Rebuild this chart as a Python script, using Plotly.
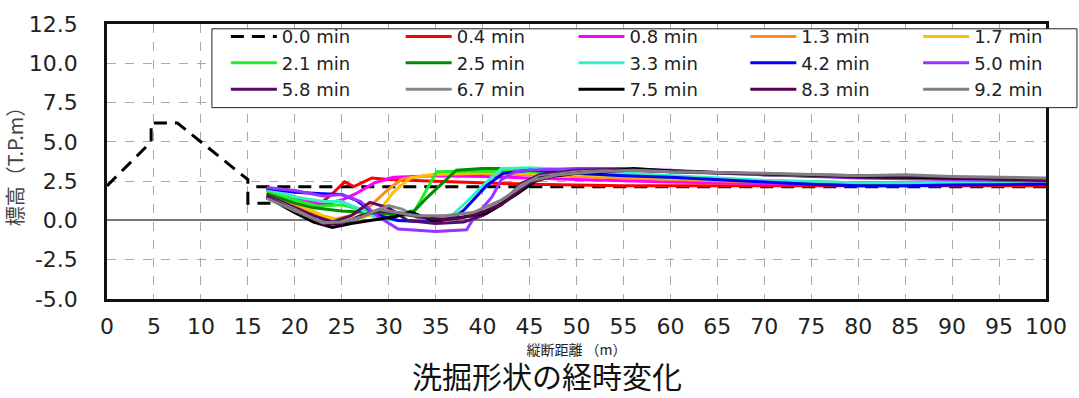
import plotly.graph_objects as go

# Longitudinal bed profiles (distance in m, elevation in T.P.m) at successive times
labels = ["0.0 min", "0.4 min", "0.8 min", "1.3 min", "1.7 min",
          "2.1 min", "2.5 min", "3.3 min", "4.2 min", "5.0 min",
          "5.8 min", "6.7 min", "7.5 min", "8.3 min", "9.2 min"]

x_00 = [0, 4.7, 4.7, 7.5, 15.0, 15.0, 17.4, None, 15.9, 100]
y_00 = [2.2, 5.0, 6.2, 6.2, 2.6, 1.1, 1.1, None, 2.15, 2.15]

x_04 = [17, 19, 21, 22.5, 24, 25.3, 26.3, 28.2, 30, 35, 40, 45, 50, 55, 60, 70, 80, 90, 100]
y_04 = [2.0, 1.6, 1.2, 0.95, 1.7, 2.45, 2.15, 2.7, 2.6, 2.5, 2.4, 2.3, 2.25, 2.2, 2.2, 2.2, 2.2, 2.2, 2.2]

x_08 = [17, 20, 23, 25, 26.5, 28.5, 30.5, 35, 40, 45, 50, 60, 70, 80, 90, 100]
y_08 = [2.0, 1.5, 1.0, 1.3, 1.7, 2.4, 2.75, 2.85, 2.8, 2.7, 2.6, 2.45, 2.35, 2.3, 2.3, 2.3]

x_13 = [17, 20, 22, 24, 26, 28, 30, 31.5, 35, 40, 45, 50, 60, 70, 80, 90, 100]
y_13 = [1.7, 1.0, 0.4, 0.05, 0.3, 0.9, 2.0, 2.65, 2.9, 3.0, 2.9, 2.8, 2.6, 2.45, 2.35, 2.35, 2.35]

x_17 = [17, 20, 23, 25, 27, 29, 30.5, 32.3, 35, 40, 45, 50, 60, 70, 80, 90, 100]
y_17 = [1.8, 1.1, 0.3, 0.0, 0.1, 0.6, 1.8, 2.7, 2.95, 3.05, 3.0, 2.9, 2.7, 2.5, 2.4, 2.4, 2.4]

x_21 = [17, 20, 22.5, 25, 27, 29, 31, 32.8, 34, 35.1, 40, 45, 50, 60, 70, 80, 90, 100]
y_21 = [1.9, 1.3, 0.9, 1.0, 0.7, 0.5, 0.4, 0.65, 1.9, 3.1, 3.15, 3.1, 3.0, 2.75, 2.5, 2.35, 2.35, 2.35]

x_25 = [17, 20, 22, 25, 28, 31, 32.3, 34, 37.2, 40, 45, 50, 60, 70, 80, 90, 100]
y_25 = [1.7, 1.1, 0.8, 0.6, 0.5, 0.35, 0.35, 1.4, 3.2, 3.3, 3.3, 3.2, 2.8, 2.5, 2.4, 2.4, 2.3]

x_33 = [17, 20, 23, 25, 27, 28.5, 31, 34, 36.5, 38, 40, 42, 45, 50, 55, 60, 70, 80, 90, 100]
y_33 = [2.0, 1.5, 1.2, 1.2, 0.7, 0.2, 0.0, -0.05, 0.2, 1.0, 2.2, 3.3, 3.35, 3.2, 3.0, 2.85, 2.55, 2.4, 2.4, 2.35]

x_42 = [17, 20, 23, 25, 26.5, 28.7, 31, 35, 37, 38, 40.4, 42.2, 45, 50, 55, 60, 70, 75, 80, 85, 90, 100]
y_42 = [2.05, 1.8, 1.7, 1.65, 1.3, 0.35, 0.0, -0.1, 0.2, 0.65, 2.2, 3.0, 3.2, 3.0, 2.85, 2.75, 2.45, 2.3, 2.2, 2.2, 2.25, 2.3]

x_50 = [17, 20, 23, 25, 27, 29, 31, 35, 38.3, 39, 41, 42, 43.5, 45, 50, 55, 60, 70, 80, 90, 100]
y_50 = [2.1, 1.9, 1.55, 1.65, 1.2, 0.2, -0.55, -0.7, -0.6, 0.1, 1.5, 2.6, 3.1, 3.2, 3.3, 3.3, 3.2, 2.9, 2.7, 2.6, 2.5]

x_58 = [17, 20, 22, 24, 26, 28, 30, 32, 35, 38, 40, 42, 44, 46, 50, 55, 60, 70, 80, 90, 100]
y_58 = [1.6, 0.8, 0.3, -0.1, 0.3, 1.15, 0.8, 0.0, -0.2, -0.1, 0.3, 1.0, 2.3, 2.9, 3.2, 3.25, 3.15, 2.9, 2.75, 2.7, 2.55]

x_67 = [17, 20, 22, 24, 26, 28, 30, 31.5, 33, 35, 38, 40, 42, 44, 46, 50, 55, 60, 70, 80, 90, 100]
y_67 = [1.5, 0.7, 0.1, -0.35, -0.1, 0.5, 0.95, 0.7, 0.2, 0.1, 0.2, 0.5, 1.2, 2.2, 2.8, 3.1, 3.2, 3.1, 2.9, 2.8, 2.75, 2.6]

x_75 = [17, 20, 22, 24, 26, 28, 30.9, 32.3, 34.7, 37.3, 40.4, 43.7, 46.1, 50, 52.5, 56, 60, 70, 80, 90, 100]
y_75 = [1.5, 0.5, -0.1, -0.45, -0.2, 0.0, 0.26, 0.55, 0.0, 0.15, 0.45, 1.7, 2.7, 3.0, 3.05, 3.3, 3.15, 2.95, 2.8, 2.7, 2.6]

x_83 = [17, 20, 23, 25, 27, 29, 31, 33, 36, 39, 42, 45, 48, 52, 56, 60, 70, 80, 85, 90, 100]
y_83 = [1.5, 0.6, -0.2, -0.2, 0.3, 0.6, 0.5, 0.25, 0.05, 0.3, 1.0, 2.4, 2.9, 3.1, 3.2, 3.1, 2.95, 2.85, 2.8, 2.75, 2.55]

x_92 = [17, 20, 23, 25, 27, 29, 31, 33, 36, 39, 42, 45, 48, 52, 56, 60, 70, 80, 85, 90, 100]
y_92 = [1.4, 0.6, -0.15, -0.1, 0.2, 0.7, 0.5, 0.3, 0.3, 0.5, 1.3, 2.5, 2.9, 3.1, 3.2, 3.1, 3.0, 2.85, 2.9, 2.8, 2.7]

xs = [x_00, x_04, x_08, x_13, x_17, x_21, x_25, x_33, x_42, x_50, x_58, x_67, x_75, x_83, x_92]
ys = [y_00, y_04, y_08, y_13, y_17, y_21, y_25, y_33, y_42, y_50, y_58, y_67, y_75, y_83, y_92]

colors = ["#000000", "#FF0000", "#FF00FF", "#FF8C1A", "#FFC000",
          "#22EE22", "#008C00", "#33F0C8", "#0000FF", "#9933FF",
          "#5A0A6A", "#888888", "#000000", "#5A0050", "#808080"]

x_ticks = list(range(0, 101, 5))
y_ticks = [-5.0, -2.5, 0.0, 2.5, 5.0, 7.5, 10.0, 12.5]

CJK = "Noto Sans CJK JP, sans-serif"
NUM = "DejaVu Sans, sans-serif"

# plot area in pixels (used to place the legend block)
L, R, T, B = 107, 1047, 13, 299
W, H = R - L, B - T
def px_x(p):
    return (p - L) / W
def px_y(p):
    return (B - p) / H

N_COLS = 5
legend_names = ["legend"] + [f"legend{k}" for k in range(2, N_COLS + 1)]
col_left_px = [226, 401, 574, 746, 919]

fig = go.Figure()
for i, (lab, xv, yv, c) in enumerate(zip(labels, xs, ys, colors)):
    fig.add_trace(go.Scatter(
        x=xv, y=yv, name=lab, mode="lines",
        connectgaps=False,
        legend=legend_names[i % N_COLS],
        line=dict(color=c, width=3, dash="13px,8px" if i == 0 else "solid"),
    ))

legend_common = dict(
    orientation="v", xanchor="left", yanchor="top",
    bgcolor="rgba(0,0,0,0)", borderwidth=0,
    font=dict(size=18, family=NUM, color="#222"),
    itemwidth=46, tracegroupgap=0,
)
legends = {}
for k, name in enumerate(legend_names):
    legends[name] = dict(legend_common, x=px_x(col_left_px[k]), y=px_y(7))

fig.update_layout(
    width=1079, height=398,
    margin=dict(l=L, r=1079 - R, t=T, b=398 - B),
    paper_bgcolor="white", plot_bgcolor="white",
    font=dict(family=NUM, color="#222"),
    showlegend=True,
    **legends,
    xaxis=dict(
        range=[0, 100], tickvals=x_ticks, ticktext=[str(v) for v in x_ticks],
        showgrid=True, gridcolor="#aaaaaa", gridwidth=1, griddash="dash",
        showline=True, mirror=True, linecolor="#111", linewidth=2.5,
        zeroline=False, ticks="",
        tickfont=dict(size=22, family=NUM, color="#222"),
        ticklabelstandoff=6,
        title=dict(text="縦断距離 （m）", font=dict(size=14, family=CJK, color="#222"),
                   standoff=5),
    ),
    yaxis=dict(
        range=[-5, 12.5], tickvals=y_ticks, ticktext=[f"{v:.1f}" for v in y_ticks],
        showgrid=True, gridcolor="#aaaaaa", gridwidth=1, griddash="dash",
        showline=True, mirror=True, linecolor="#111", linewidth=2.5,
        zeroline=True, zerolinecolor="#777", zerolinewidth=2,
        ticks="",
        tickfont=dict(size=22, family=NUM, color="#222"),
        ticklabelstandoff=22,
        title=dict(text="標高（T.P.m）", font=dict(size=20, family=CJK, color="#444"),
                   standoff=0),
    ),
)

# legend frame spanning the five legend columns
fig.add_shape(
    type="rect", xref="paper", yref="paper", layer="above",
    x0=px_x(212), x1=px_x(1078), y0=px_y(100), y1=px_y(18),
    line=dict(color="#222", width=1), fillcolor="white",
)

fig.add_annotation(
    text="洗掘形状の経時変化", xref="paper", yref="paper",
    x=px_x(547), y=px_y(378), xanchor="center", yanchor="middle", showarrow=False,
    font=dict(size=30, family=CJK, color="#111"),
)

fig.write_html("out.html")
